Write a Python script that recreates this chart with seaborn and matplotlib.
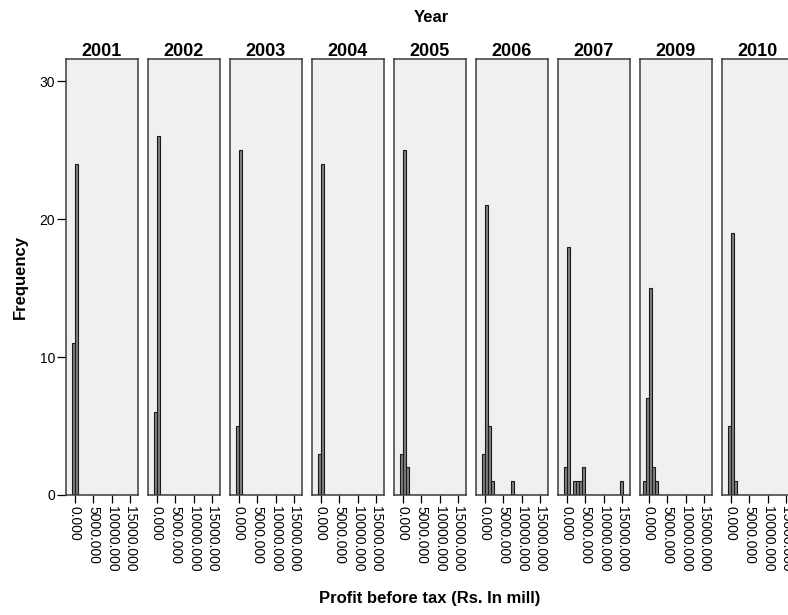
import pandas as pd
import matplotlib
matplotlib.use("Agg")
import matplotlib.pyplot as plt
import seaborn as sns

# Data: histogram counts per year, bins of 800
years = ["2001", "2002", "2003", "2004", "2005", "2006", "2007", "2009", "2010"]
bin_centres = [-1200, -400, 400, 1200, 2000, 2800, 3600, 4400, 7600, 14800]
counts_2001 = [0, 11, 24, 0, 0, 0, 0, 0, 0, 0]
counts_2002 = [0, 6, 26, 0, 0, 0, 0, 0, 0, 0]
counts_2003 = [0, 5, 25, 0, 0, 0, 0, 0, 0, 0]
counts_2004 = [0, 3, 24, 0, 0, 0, 0, 0, 0, 0]
counts_2005 = [0, 3, 25, 2, 0, 0, 0, 0, 0, 0]
counts_2006 = [0, 3, 21, 5, 1, 0, 0, 0, 1, 0]
counts_2007 = [0, 2, 18, 0, 1, 1, 1, 2, 0, 1]
counts_2009 = [1, 7, 15, 2, 1, 0, 0, 0, 0, 0]
counts_2010 = [0, 5, 19, 1, 0, 0, 0, 0, 0, 0]
all_counts = [counts_2001, counts_2002, counts_2003, counts_2004, counts_2005,
              counts_2006, counts_2007, counts_2009, counts_2010]
x_ticks = [0, 5000, 10000, 15000]
y_ticks = [0, 10, 20, 30]

sns.set_theme(style="white")
plt.rcParams['font.family'] = ['Liberation Sans', 'DejaVu Sans']
plt.rcParams['text.color'] = 'black'
plt.rcParams['xtick.color'] = 'black'
plt.rcParams['ytick.color'] = 'black'

W, H = 788, 615
fig = plt.figure(figsize=(W / 100, H / 100), dpi=100)

edges = list(range(-1600, 16001, 800))
left0, step, width = 66, 82, 72
top, bottom = 59, 495

for i, (yr, cnt) in enumerate(zip(years, all_counts)):
    ax = fig.add_axes([(left0 + i * step) / W, 1 - bottom / H, width / W, (bottom - top) / H])
    d = pd.DataFrame({"profit": bin_centres, "n": cnt})
    sns.histplot(data=d, x="profit", weights="n", bins=edges, ax=ax,
                 color="#808080", edgecolor="#1a1a1a", linewidth=0.8, alpha=1)
    ax.set_facecolor("#f0f0f0")
    ax.set_xlim(-2450, 17200)
    ax.set_ylim(0, 31.6)
    for s in ax.spines.values():
        s.set_visible(True)
        s.set_color("#3c3c3c")
        s.set_linewidth(1.1)
    ax.set_xticks(x_ticks)
    ax.set_xticklabels([f"{v:.3f}" for v in x_ticks], rotation=270, fontsize=10)
    ax.tick_params(axis="x", direction="out", length=6, width=0.9, pad=2,
                   bottom=True)
    if i == 0:
        ax.set_yticks(y_ticks)
        ax.set_yticklabels([str(v) for v in y_ticks], fontsize=10)
        ax.tick_params(axis="y", direction="out", length=6.5, width=0.9, pad=1.5,
                       left=True)
    else:
        ax.set_yticks([])
    ax.set_xlabel("")
    ax.set_ylabel("")
    ax.set_title(yr, fontsize=13, fontweight="bold", pad=2, color="black")

fig.text(431 / W, 1 - 17 / H, "Year", ha="center", va="center",
         fontsize=12, fontweight="bold")
fig.text(20 / W, 1 - 277 / H, "Frequency", ha="center", va="center",
         rotation=90, fontsize=12, fontweight="bold")
fig.text(430 / W, 1 - 599 / H, "Profit before tax (Rs. In mill)", ha="center",
         va="center", fontsize=12, fontweight="bold")

fig.savefig("out.png", dpi=100)
